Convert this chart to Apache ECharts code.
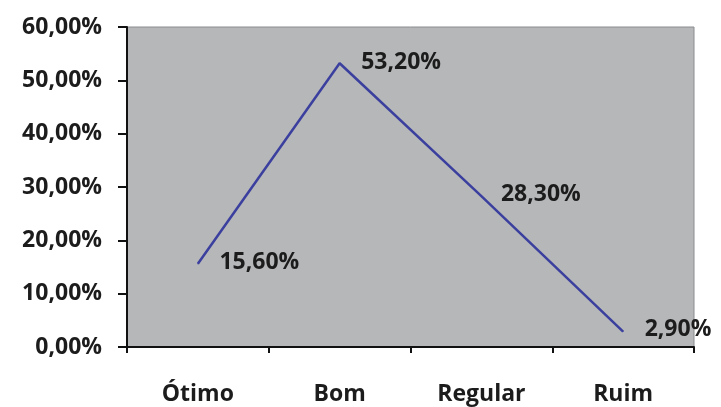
<!DOCTYPE html>
<html>
<head>
<meta charset="utf-8">
<script src="https://cdn.jsdelivr.net/npm/echarts@6/dist/echarts.min.js"></script>
<style>
  html, body { margin: 0; padding: 0; background: #ffffff; }
  #chart { width: 721px; height: 407px; }
</style>
</head>
<body>
<div id="chart"></div>
<script>
// Avaliação: percentual de respostas por categoria
const categories = ['Ótimo', 'Bom', 'Regular', 'Ruim'];
const percentValues = [15.6, 53.2, 28.3, 2.9];
const yTicks = [0, 10, 20, 30, 40, 50, 60];

const fmtPct = v => v.toFixed(2).replace('.', ',') + '%';
const fontFamily = '"Open Sans", "Liberation Sans", sans-serif';
const textColor = '#1c1c1c';

const chart = echarts.init(document.getElementById('chart'), null, { renderer: 'canvas' });
chart.setOption({
  animation: false,
  backgroundColor: '#ffffff',
  grid: {
    left: 127, top: 27, right: 27, bottom: 60,
    show: true,
    backgroundColor: '#b5b7b9',
    borderColor: '#8a8c8e',
    borderWidth: 1
  },
  xAxis: {
    type: 'category',
    data: categories,
    boundaryGap: true,
    axisLine: { lineStyle: { color: '#111111', width: 2 } },
    axisTick: { show: true, length: 6, lineStyle: { color: '#111111', width: 2 } },
    axisLabel: {
      margin: 36,
      color: textColor,
      fontSize: 23,
      fontWeight: 'bold',
      fontFamily: fontFamily
    },
    splitLine: { show: false }
  },
  yAxis: {
    type: 'value',
    min: yTicks[0],
    max: yTicks[yTicks.length - 1],
    interval: 10,
    axisLine: { show: true, lineStyle: { color: '#111111', width: 2 } },
    axisTick: { show: true, length: 9, lineStyle: { color: '#111111', width: 2 } },
    axisLabel: {
      margin: 25,
      color: textColor,
      fontSize: 23,
      fontWeight: 'bold',
      fontFamily: fontFamily,
      formatter: v => fmtPct(v)
    },
    splitLine: { show: false }
  },
  series: [{
    type: 'line',
    data: percentValues,
    symbol: 'circle',
    symbolSize: 1,
    showSymbol: true,
    itemStyle: { color: '#3b3f9e' },
    lineStyle: { color: '#3b3f9e', width: 2.5 },
    label: {
      show: true,
      position: 'right',
      distance: 21,
      color: textColor,
      fontSize: 23,
      fontWeight: 'bold',
      fontFamily: fontFamily,
      formatter: p => fmtPct(p.value)
    },
    labelLayout: function (params) {
      const offsets = [[0, -1], [0, -1], [-2, -2], [0, -2]];
      const o = offsets[params.dataIndex] || [0, 0];
      return { dx: o[0], dy: o[1] };
    }
  }]
});
</script>
</body>
</html>
